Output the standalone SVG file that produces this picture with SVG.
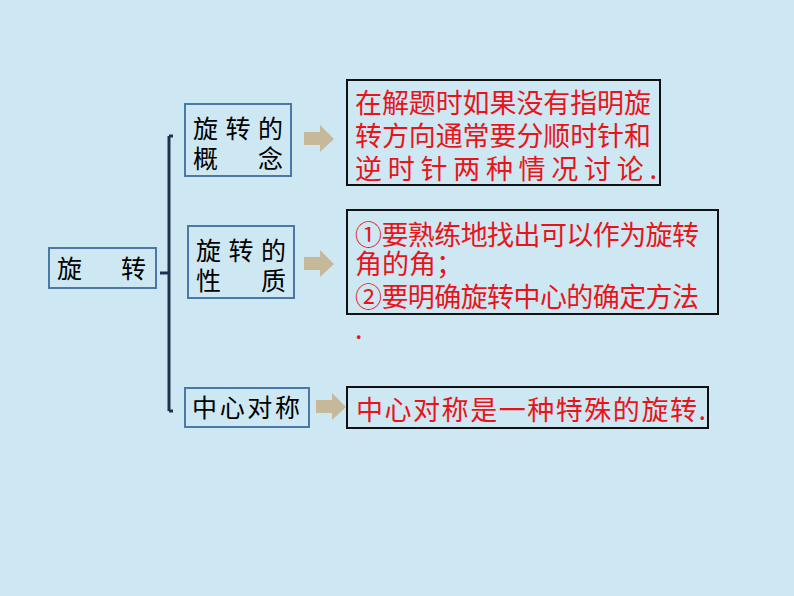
<svg xmlns="http://www.w3.org/2000/svg" width="794" height="596" viewBox="0 0 794 596">
<defs><style>
.lb{fill:none;stroke:#4a79a8;stroke-width:2}
.rb{fill:none;stroke:#111;stroke-width:2}
.k{font-family:"Noto Sans CJK SC","Liberation Sans",sans-serif;font-size:25px;fill:#000}
.r{font-family:"Noto Sans CJK SC","Liberation Sans",sans-serif;font-size:27px;fill:#e8141a}
.ar{fill:#c5b99a}
</style></defs>
<rect width="794" height="596" fill="#cde8f2"/>
<g id="connectors">
<path d="M160 273H169M169 136V411M169 136H173M169 411H173" stroke="#1d3350" stroke-width="3" fill="none"/>
<path class="ar" d="M304 132H320V125L334 139L320 152V145H304Z"/>
<path class="ar" d="M304 257H320V250L334 264L320 277V270H304Z"/>
<path class="ar" d="M316 400H332V393L346 407L332 420V413H316Z"/>
</g>
<g id="root"><rect class="lb" x="49" y="248" width="107" height="40"/>
<text class="k" x="57" y="278" font-size="27">旋</text><text class="k" x="121" y="278" font-size="27">转</text></g>
<g id="n1"><rect class="lb" x="185" y="104" width="106" height="72"/>
<text class="k" x="193" y="138" textLength="90">旋转的</text><text class="k" x="193" y="168">概</text><text class="k" x="258" y="168">念</text></g>
<g id="n2"><rect class="lb" x="188" y="226" width="106" height="72"/>
<text class="k" x="196" y="260" textLength="90">旋转的</text><text class="k" x="196" y="290">性</text><text class="k" x="261" y="290">质</text></g>
<g id="n3"><rect class="lb" x="185" y="388" width="124" height="39"/>
<text class="k" x="192" y="417" textLength="108">中心对称</text></g>
<g id="d1"><rect class="rb" x="347" y="80" width="313" height="105"/>
<text class="r" x="355" y="113" textLength="296">在解题时如果没有指明旋</text>
<text class="r" x="355" y="146" textLength="296">转方向通常要分顺时针和</text>
<text class="r" x="355" y="179" textLength="302">逆时针两种情况讨论.</text></g>
<g id="d2"><rect class="rb" x="347" y="210" width="371" height="104"/>
<text class="r" x="355" y="245" textLength="344">①要熟练地找出可以作为旋转</text>
<text class="r" x="355" y="274">角的角；</text>
<text class="r" x="355" y="307" textLength="344">②要明确旋转中心的确定方法</text>
<text class="r" x="355" y="339">.</text></g>
<g id="d3"><rect class="rb" x="347" y="387" width="361" height="41"/>
<text class="r" x="356" y="420" textLength="350">中心对称是一种特殊的旋转.</text></g>
</svg>
